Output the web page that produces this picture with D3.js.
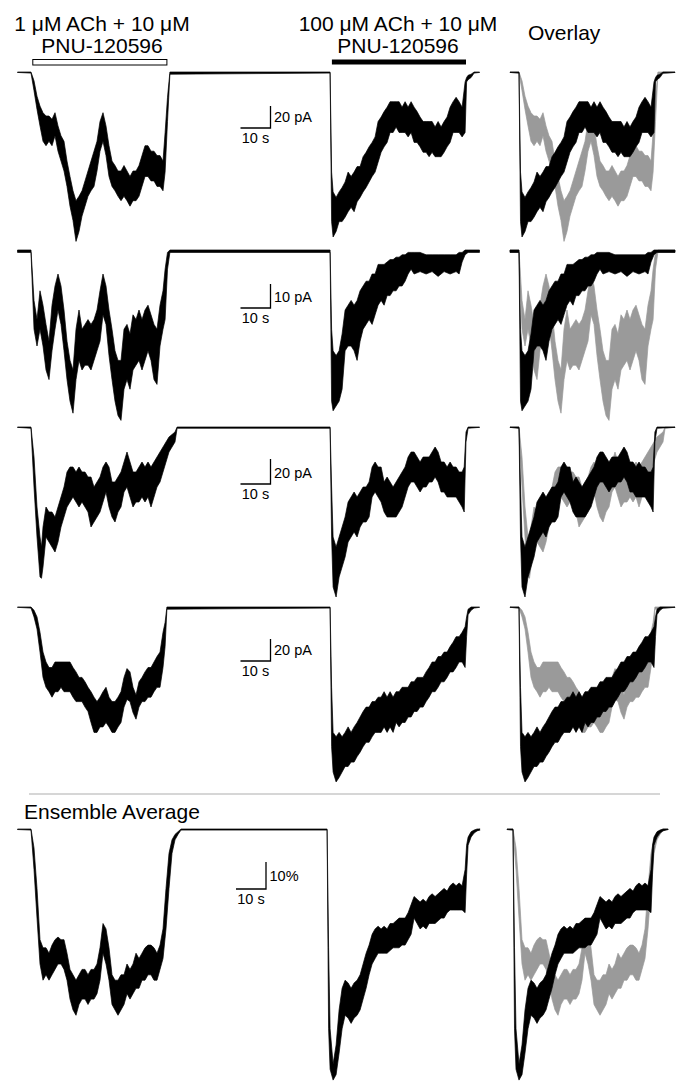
<!DOCTYPE html>
<html>
<head>
<meta charset="utf-8">
<script src="https://cdn.jsdelivr.net/npm/d3@7"></script>
<style>
    body { margin: 0; background: #fff; }
    svg text { font-family: "Liberation Sans", Arial, sans-serif; fill: #000; }
</style>
</head>
<body>
<svg id="chart"></svg>
<script>
// Recordings: each point is [time since application (s), upper edge, lower edge]
// of the noisy current trace, amplitude of inward current (pA, or % for ensemble)
const cell1Low = [[0,0,1],[1,8,17],[2,22,34],[3,31,49],[4,37,63],[5,40,67],[6,40,63],[7,43,67],[8,37,58],[9,49,72],[10,58,81],[11,63,90],[12,81,104],[13,95,122],[14,108,135],[15,117,154],[16,113,145],[17,108,131],[18,99,122],[19,90,113],[20,81,108],[21,72,104],[22,63,90],[23,45,72],[24,37,63],[25,49,76],[26,67,95],[27,81,104],[28,85,108],[29,90,113],[30,90,117],[31,85,113],[32,90,117],[33,95,122],[34,90,117],[35,90,117],[36,85,113],[37,76,104],[38,67,95],[39,67,95],[40,72,99],[41,72,99],[42,76,104],[43,76,104],[44,81,108],[44.7,55,91],[45.5,23,45],[46.3,0,2]];
const cell1High = [[0,0,1],[0.5,91,136],[1,109,150],[2,114,145],[3,109,136],[4,105,136],[5,100,132],[6,91,127],[7,95,123],[8,91,127],[9,86,118],[10,86,114],[11,77,109],[12,73,105],[13,68,100],[14,64,95],[15,59,91],[16,45,82],[17,41,73],[18,36,68],[19,32,64],[20,27,55],[21,27,55],[22,27,50],[23,27,55],[24,32,55],[25,27,55],[26,32,59],[27,27,55],[28,32,64],[29,36,64],[30,41,68],[31,45,73],[32,45,73],[33,45,77],[34,45,73],[35,50,77],[36,45,77],[37,50,77],[38,45,73],[39,41,68],[40,32,64],[41,27,55],[42,23,55],[43,27,55],[44,32,59],[45,9,55],[45.5,5,9],[46,3,7],[47,2,5],[48,0,1]];

const cell2Low = [[0,0,0.5],[1,21,33],[2,29,40],[3,17,33],[4,23,40],[5,31,50],[6,38,54],[7,23,42],[8,15,33],[9,10,25],[10,15,31],[11,25,42],[12,38,54],[13,46,63],[14,50,68],[15,33,54],[16,25,46],[17,33,50],[18,31,48],[19,29,48],[20,31,50],[21,29,46],[22,25,42],[23,17,38],[24,10,27],[25,15,31],[26,25,44],[27,33,54],[28,42,63],[29,46,69],[30,46,71],[31,33,58],[32,31,54],[33,35,58],[34,27,50],[35,29,48],[36,25,46],[37,29,50],[38,25,46],[39,23,42],[40,27,46],[41,31,54],[42,33,56],[43,23,40],[44,17,33],[44.7,8,29],[45.5,1,8],[46.3,0,0.5]];
const cell2High = [[0,0,0.5],[0.5,33,63],[1,42,67],[2,44,65],[3,42,63],[4,35,58],[5,25,42],[6,23,40],[7,21,40],[8,23,42],[9,21,46],[10,17,38],[11,15,33],[12,13,31],[13,13,29],[14,10,31],[15,10,27],[16,6,23],[17,6,21],[18,6,23],[19,5,19],[20,4,19],[21,4,17],[22,3,17],[23,3,15],[24,2,15],[25,2,13],[26,1,10],[27,1,8],[28,1,10],[30,1,9],[32,2,10],[34,2,9],[36,2,11],[38,2,9],[40,2,10],[42,2,9],[43,1,10],[44,1,5],[45,0,2],[46,0,0.5]];

const cell3Low = [[0,0,1],[1,24,48],[2,64,88],[3,88,120],[3.5,96,121],[4,80,112],[5,64,88],[6,68,92],[7,68,96],[8,72,100],[9,64,92],[10,56,80],[11,48,72],[12,36,64],[13,32,60],[14,32,56],[15,36,60],[16,32,64],[17,36,60],[18,36,64],[19,40,68],[20,40,80],[21,48,76],[22,44,72],[23,40,68],[24,32,60],[25,28,52],[26,32,64],[27,44,72],[28,44,76],[29,40,68],[30,36,64],[31,28,52],[32,20,48],[33,28,56],[34,36,64],[35,36,60],[36,32,60],[37,28,56],[38,32,60],[39,28,56],[40,32,64],[41,28,56],[42,24,48],[43,20,44],[44,16,36],[45,12,28],[46,8,20],[47,6,16],[48,4,12],[48.7,0,1]];
const cell3High = [[0,0,1],[0.5,48,88],[1,88,128],[2,96,136],[3,88,120],[4,80,112],[5,72,104],[6,60,92],[7,56,88],[8,52,84],[9,56,88],[10,52,80],[11,48,76],[12,48,76],[13,44,72],[14,32,56],[15,28,52],[16,32,56],[17,32,60],[18,44,68],[19,40,72],[20,44,72],[21,48,72],[22,44,72],[23,40,68],[24,36,64],[25,32,56],[26,24,48],[27,20,44],[28,20,44],[29,24,48],[30,28,52],[31,24,48],[32,24,48],[33,24,44],[34,20,44],[35,16,40],[36,20,44],[37,28,52],[38,28,52],[39,32,56],[40,28,56],[41,32,56],[42,32,56],[43,36,60],[44,36,64],[44.7,32,68],[45.3,4,12],[46,0,1]];

const cell4Low = [[0,0,1],[1,3,9],[2,9,20],[3,23,41],[4,41,64],[5,50,73],[6,55,77],[7,55,82],[8,50,77],[9,50,77],[10,50,73],[11,50,77],[12,50,77],[13,50,77],[14,55,82],[15,59,86],[16,64,86],[17,64,86],[18,68,91],[19,73,95],[20,77,105],[21,82,114],[22,86,114],[23,82,109],[24,77,109],[25,73,105],[26,82,109],[27,86,114],[28,86,114],[29,82,109],[30,77,105],[31,64,91],[32,56,84],[33,59,86],[34,73,96],[35,80,102],[36,68,91],[37,64,86],[38,59,86],[39,55,82],[40,55,82],[41,50,77],[42,45,73],[43,41,73],[44,23,55],[44.7,14,36],[45.3,0,2]];
const cell4High = [[0,0,1],[0.5,73,127],[1,114,150],[2,118,159],[3,114,155],[4,118,150],[5,114,145],[6,109,145],[7,114,141],[8,109,141],[9,105,136],[10,100,132],[11,95,127],[12,91,123],[13,91,123],[14,86,118],[15,86,114],[16,82,114],[17,82,114],[18,77,109],[19,82,114],[20,77,109],[21,82,114],[22,77,105],[23,77,109],[24,73,105],[25,73,105],[26,73,100],[27,68,100],[28,68,95],[29,64,95],[30,64,91],[31,64,91],[32,59,86],[33,55,82],[34,50,77],[35,50,77],[36,45,73],[37,45,68],[38,41,68],[39,41,64],[40,36,59],[41,32,59],[42,27,55],[43,27,50],[44,23,50],[45,18,55],[45.5,9,27],[46,2,7],[47,0,3],[48,0,1]];

const ensembleLow = [[0,0,0.4],[1,7,15],[2,22,33],[3,41,50],[4,44,56],[5,44,54],[6,46,56],[7,43,54],[8,41,52],[9,40,50],[10,41,50],[11,41,52],[12,46,56],[13,52,63],[14,54,67],[15,56,69],[16,54,65],[17,52,63],[18,52,63],[19,54,65],[20,52,63],[21,52,63],[22,50,61],[23,44,56],[24,35,46],[25,37,50],[26,44,56],[27,54,65],[28,56,67],[29,56,69],[30,54,67],[31,54,65],[32,50,61],[33,52,63],[34,50,61],[35,46,59],[36,48,59],[37,46,56],[38,44,56],[39,43,54],[40,43,54],[41,44,56],[42,46,56],[43,43,52],[44,37,48],[45,22,37],[46,9,22],[47,4,9],[48,2,4],[49,1,2],[50,0,0.4]];
const ensembleHigh = [[0,0,0.4],[0.5,44,74],[1,74,89],[2,87,93],[3,80,91],[4,67,83],[5,59,74],[6,56,69],[7,57,70],[8,59,72],[9,57,70],[10,56,69],[11,54,67],[12,50,63],[13,46,59],[14,43,54],[15,39,50],[16,37,48],[17,36,46],[18,37,46],[19,36,46],[20,37,46],[21,35,45],[22,35,44],[23,34,44],[24,33,44],[25,33,43],[26,33,43],[27,31,41],[28,28,39],[29,25,33],[30,26,35],[31,27,37],[32,26,36],[33,27,37],[34,25,35],[35,24,35],[36,25,35],[37,24,34],[38,23,33],[39,22,33],[40,23,31],[41,21,30],[42,20,30],[43,21,30],[44,20,30],[45,21,30],[46,15,31],[46.5,6,17],[47,3,6],[48,1,3],[49,0.4,1.5],[50,0,0.7],[51,0,0.4]];

// Per row: application onsets (s), scale bars, baseline noise
const onsetLow = [0, 0, 0, 0, 0];
const onsetHigh = [99.7, 99.7, 99.7, 99.7, 98.7];
const scaleBarAmp = [20, 10, 20, 20, 10];
const scaleBarUnit = ["pA", "pA", "pA", "pA", "%"];
const scaleBarTime = 10;
const baselineNoise = [0.4, 1, 0.3, 0.3, 0.2];
const recordStart = -4.5, recordEnd = 149.5;
const overlayStart = [-3, -3, -3, -3, -2];
const overlayEnd = [52, 52, 52, 52, 51.7];
const applicationEnd = 45.3;

const lowData = [cell1Low, cell2Low, cell3Low, cell4Low, ensembleLow];
const highData = [cell1High, cell2High, cell3High, cell4High, ensembleHigh];

// Layout
const width = 684, height = 1081;
const rowBaseline = [72, 250, 427, 607, 829];
const rowPxPerUnit = [1.1, 2.4, 1.25, 1.1, 2.7];
const barX = [270.5, 270.5, 270.5, 270.5, 266];
const barBottomOffset = [56, 58, 57, 54, 60];
const overlayOnsetX = [519, 519, 519, 519, 513];
const pxPerSecond = 3;

const svg = d3.select("#chart")
    .attr("width", width)
    .attr("height", height);

// main time axis, t = 0 at the first application
const xMain = d3.scaleLinear()
    .domain([recordStart, recordEnd])
    .range([31 + pxPerSecond * recordStart, 31 + pxPerSecond * recordEnd]);

function shift(points, t0, floor) {
    return points.map(d => [d[0] + t0, d[1], Math.max(d[2], floor)]);
}

lowData.forEach(function (low, i) {
    const high = highData[i];
    const noise = baselineNoise[i];

    const yScale = d3.scaleLinear()
        .domain([0, scaleBarAmp[i]])
        .range([rowBaseline[i], rowBaseline[i] + scaleBarAmp[i] * rowPxPerUnit[i]]);

    const area = d3.area()
        .x(d => d.x)
        .y0(d => yScale(d[1]))
        .y1(d => yScale(d[2]));

    // continuous recording: baseline, low-conc response, baseline, high-conc response, baseline
    const main = [[recordStart, 0, noise]]
        .concat(shift(low, onsetLow[i], noise))
        .concat(shift(high, onsetHigh[i], noise))
        .concat([[recordEnd, 0, noise]]);
    main.forEach(d => d.x = xMain(d[0]));

    svg.append("path")
        .datum(main)
        .attr("d", area)
        .attr("fill", "#000")
        .attr("stroke", "#000")
        .attr("stroke-width", 0.7)
        .attr("stroke-linejoin", "miter");

    // overlay: both responses aligned to onset
    const xOver = d3.scaleLinear()
        .domain([0, 10])
        .range([overlayOnsetX[i], overlayOnsetX[i] + 10 * pxPerSecond]);

    [[low, "#9a9a9a"], [high, "#000"]].forEach(function ([pts, color]) {
        const seg = [[overlayStart[i], 0, noise]]
            .concat(shift(pts, 0, noise))
            .concat([[overlayEnd[i], 0, noise]]);
        seg.forEach(d => d.x = xOver(d[0]));
        svg.append("path")
            .datum(seg)
            .attr("d", area)
            .attr("fill", color)
            .attr("stroke", color)
            .attr("stroke-width", 0.7)
            .attr("stroke-linejoin", "miter");
    });

    // scale bar
    const bx = barX[i];
    const by = rowBaseline[i] + barBottomOffset[i];
    const barH = yScale(scaleBarAmp[i]) - yScale(0);
    const barW = xMain(scaleBarTime) - xMain(0);
    svg.append("path")
        .attr("d", `M${bx - barW},${by}H${bx}V${by - barH}`)
        .attr("fill", "none")
        .attr("stroke", "#000")
        .attr("stroke-width", 1.3);
    svg.append("text")
        .attr("x", bx + 3.5)
        .attr("y", by - (i === 4 ? 8 : 6))
        .style("font-size", "14.5px")
        .text(scaleBarAmp[i] + (scaleBarUnit[i] === "%" ? "%" : " " + scaleBarUnit[i]));
    svg.append("text")
        .attr("x", bx - barW / 2)
        .attr("y", by + 15)
        .attr("text-anchor", "middle")
        .style("font-size", "14.5px")
        .text(scaleBarTime + " s");
});

// application bars and labels
svg.append("rect")
    .attr("x", xMain(onsetLow[0] + 0.6))
    .attr("y", 59.5)
    .attr("width", xMain(applicationEnd) - xMain(0.6))
    .attr("height", 5.5)
    .attr("fill", "#fff")
    .attr("stroke", "#000")
    .attr("stroke-width", 1);
svg.append("rect")
    .attr("x", xMain(onsetHigh[0] + 0.6))
    .attr("y", 59.5)
    .attr("width", xMain(applicationEnd) - xMain(0.6))
    .attr("height", 5)
    .attr("fill", "#000");

const headers = [
    [102, ["1 \u03BCM ACh + 10 \u03BCM", "PNU-120596"]],
    [398, ["100 \u03BCM ACh + 10 \u03BCM", "PNU-120596"]]
];
headers.forEach(function ([cx, lines]) {
    lines.forEach(function (line, j) {
        svg.append("text")
            .attr("x", cx)
            .attr("y", 31 + j * 22)
            .attr("text-anchor", "middle")
            .style("font-size", "21px")
            .text(line);
    });
});

svg.append("text")
    .attr("x", 528)
    .attr("y", 40)
    .style("font-size", "21px")
    .text("Overlay");

// separator and ensemble title
svg.append("line")
    .attr("x1", 29).attr("x2", 660)
    .attr("y1", 794).attr("y2", 794)
    .attr("stroke", "#c8c8c8")
    .attr("stroke-width", 1.5);

svg.append("text")
    .attr("x", 24)
    .attr("y", 819)
    .style("font-size", "21px")
    .text("Ensemble Average");
</script>
</body>
</html>
